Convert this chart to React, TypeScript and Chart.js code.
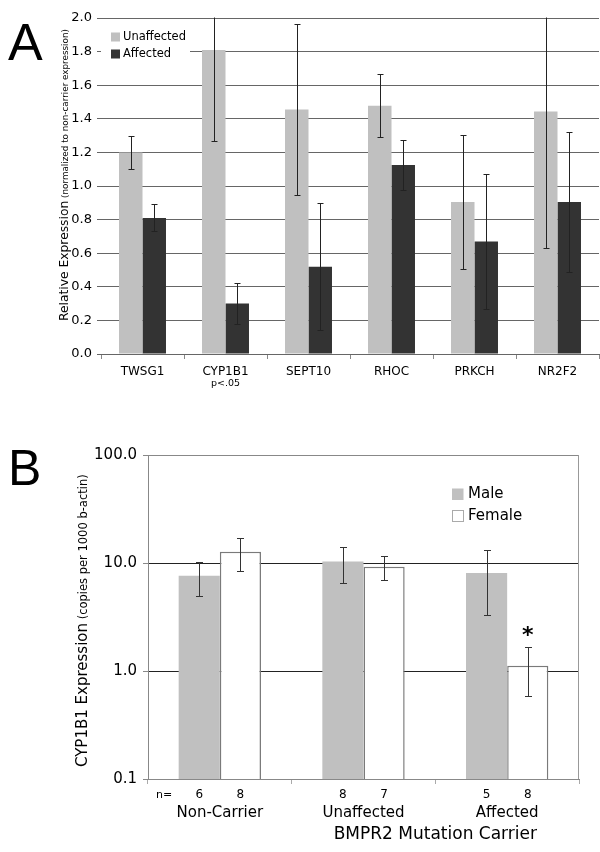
import React, { useEffect, useRef } from 'react';
import { Chart, registerables } from 'chart.js';

Chart.register(...registerables);
Chart.defaults.font.family = 'DejaVu Sans';
Chart.defaults.color = '#000';

// ---- Panel A data ----
const genes = ['TWSG1', 'CYP1B1', 'SEPT10', 'RHOC', 'PRKCH', 'NR2F2'];
const unaffectedA = [1.2, 1.81, 1.455, 1.478, 0.905, 1.444];
const unaffectedAErr = [0.1, 0.54, 0.51, 0.187, 0.4, 0.815];
const affectedA = [0.81, 0.3, 0.52, 1.125, 0.67, 0.905];
const affectedAErr = [0.08, 0.12, 0.38, 0.15, 0.4, 0.415];
const yTicksA = [0, 0.2, 0.4, 0.6, 0.8, 1.0, 1.2, 1.4, 1.6, 1.8, 2.0];

// ---- Panel B data ----
const groups = ['Non-Carrier', 'Unaffected', 'Affected'];
const maleB = [7.6, 10.3, 8.1];
const maleLow = [4.95, 6.5, 3.3];
const maleHigh = [10.3, 14.2, 13.2];
const femaleB = [12.7, 9.25, 1.12];
const femaleLow = [8.5, 6.96, 0.587];
const femaleHigh = [16.9, 11.5, 1.66];
const maleN = [6, 8, 5];
const femaleN = [8, 7, 8];
const yTicksB = [0.1, 1, 10, 100];

const errorBars = {
  id: 'errorBars',
  afterDatasetsDraw(chart: any, _a: any, opts: any) {
    const { ctx, chartArea } = chart;
    const y = chart.scales.y;
    ctx.save();
    ctx.beginPath();
    ctx.rect(chartArea.left, chartArea.top - 0.5, chartArea.right - chartArea.left, chartArea.bottom - chartArea.top + 1);
    ctx.clip();
    ctx.strokeStyle = opts.color || '#222';
    ctx.lineWidth = 1;
    chart.data.datasets.forEach((ds: any, i: number) => {
      const meta = chart.getDatasetMeta(i);
      meta.data.forEach((bar: any, j: number) => {
        let lo: number, hi: number;
        if (ds.errLow) { lo = ds.errLow[j]; hi = ds.errHigh[j]; }
        else { lo = ds.data[j] - ds.err[j]; hi = ds.data[j] + ds.err[j]; }
        const x = Math.round(bar.x) + 0.5;
        const yl = Math.round(y.getPixelForValue(lo)) + 0.5;
        const yh = Math.round(y.getPixelForValue(hi)) + 0.5;
        const cw = opts.cap || 3;
        ctx.beginPath();
        ctx.moveTo(x, yl); ctx.lineTo(x, yh);
        ctx.moveTo(x - cw, yl); ctx.lineTo(x + cw, yl);
        ctx.moveTo(x - cw, yh); ctx.lineTo(x + cw, yh);
        ctx.stroke();
      });
    });
    ctx.restore();
  },
};

function drawRotTitle(ctx: CanvasRenderingContext2D, baseX: number, yBottom: number, parts: [string, string][]) {
  ctx.save();
  ctx.translate(baseX, yBottom);
  ctx.rotate(-Math.PI / 2);
  ctx.textBaseline = 'alphabetic';
  ctx.textAlign = 'left';
  ctx.fillStyle = '#000';
  let x = 0;
  for (const [t, f] of parts) {
    ctx.font = f;
    ctx.fillText(t, x, 0);
    x += ctx.measureText(t).width;
  }
  ctx.restore();
}

const decorA = {
  id: 'decorA',
  afterDraw(chart: any) {
    const { ctx, chartArea } = chart;
    const xs = chart.scales.x;
    ctx.save();
    // panel letter
    ctx.fillStyle = '#000';
    ctx.font = '52px "Liberation Sans"';
    ctx.textBaseline = 'alphabetic';
    ctx.textAlign = 'left';
    ctx.fillText('A', 8, 60);
    // y title
    drawRotTitle(ctx, 67.5, 321, [
      ['Relative Expression', '12.3px "DejaVu Sans"'],
      [' (normalized to non-carrier expression)', '8.8px "DejaVu Sans"'],
    ]);
    // p-value
    ctx.font = '9.5px "DejaVu Sans"';
    ctx.textAlign = 'center';
    ctx.textBaseline = 'middle';
    ctx.fillText('p<.05', xs.getPixelForValue(1), 384);
    // legend
    ctx.fillStyle = '#fff';
    ctx.fillRect(chartArea.left, 26, 89, 36);
    ctx.fillStyle = '#c0c0c0';
    ctx.fillRect(111, 32.5, 9, 9);
    ctx.fillStyle = '#333';
    ctx.fillRect(111, 49.5, 9, 9);
    ctx.fillStyle = '#000';
    ctx.font = '11.5px "DejaVu Sans"';
    ctx.textAlign = 'left';
    ctx.fillText('Unaffected', 123, 37.5);
    ctx.fillText('Affected', 123, 54.5);
    ctx.restore();
  },
};

const decorB = {
  id: 'decorB',
  afterDraw(chart: any) {
    const { ctx, chartArea } = chart;
    const xs = chart.scales.x;
    const ys = chart.scales.y;
    ctx.save();
    // right border
    ctx.strokeStyle = '#999';
    ctx.lineWidth = 1;
    ctx.beginPath();
    ctx.moveTo(Math.round(chartArea.right) - 0.5, chartArea.top);
    ctx.lineTo(Math.round(chartArea.right) - 0.5, chartArea.bottom);
    ctx.stroke();
    // letter
    ctx.fillStyle = '#000';
    ctx.font = '50px "Liberation Sans"';
    ctx.textBaseline = 'alphabetic';
    ctx.textAlign = 'left';
    ctx.fillText('B', 8, 65);
    // y title
    drawRotTitle(ctx, 86.5, 347, [
      ['CYP1B1 Expression', '15px "DejaVu Sans"'],
      [' (copies per 1000 b-actin)', '11.5px "DejaVu Sans"'],
    ]);
    // n labels
    ctx.textBaseline = 'middle';
    ctx.font = '11px "DejaVu Sans"';
    ctx.textAlign = 'left';
    ctx.fillText('n=', chartArea.left + 8, 375);
    ctx.textAlign = 'center';
    ctx.font = '12px "DejaVu Sans"';
    const m0 = chart.getDatasetMeta(0);
    const m1 = chart.getDatasetMeta(1);
    m0.data.forEach((b: any, j: number) => ctx.fillText(String(maleN[j]), b.x, 375));
    m1.data.forEach((b: any, j: number) => ctx.fillText(String(femaleN[j]), b.x, 375));
    // axis title
    ctx.font = '17px "DejaVu Sans"';
    const cx = (xs.getPixelForValue(1) + xs.getPixelForValue(2)) / 2;
    ctx.fillText('BMPR2 Mutation Carrier', cx, 415);
    // asterisk
    const fb = m1.data[2];
    ctx.font = 'bold 22px "DejaVu Sans"';
    ctx.textBaseline = 'alphabetic';
    ctx.fillText('*', fb.x, ys.getPixelForValue(femaleHigh[2]) - 5.5);
    // legend
    ctx.fillStyle = '#c0c0c0';
    ctx.fillRect(452, 68.5, 11.5, 11.5);
    ctx.fillStyle = '#fff';
    ctx.fillRect(452.5, 90.5, 11, 11);
    ctx.strokeStyle = '#aaa';
    ctx.strokeRect(452.5, 90.5, 11, 11);
    ctx.fillStyle = '#000';
    ctx.font = '15px "DejaVu Sans"';
    ctx.textAlign = 'left';
    ctx.textBaseline = 'middle';
    ctx.fillText('Male', 468, 74.5);
    ctx.fillText('Female', 468, 96.5);
    ctx.restore();
  },
};

function ChartA() {
  const ref = useRef<HTMLCanvasElement>(null);
  useEffect(() => {
    const chart = new Chart(ref.current!, {
      type: 'bar',
      data: {
        labels: genes,
        datasets: [
          { label: 'Unaffected', data: unaffectedA, err: unaffectedAErr, backgroundColor: '#c0c0c0', barPercentage: 1, categoryPercentage: 0.566 } as any,
          { label: 'Affected', data: affectedA, err: affectedAErr, backgroundColor: '#333333', barPercentage: 1, categoryPercentage: 0.566 } as any,
        ],
      },
      options: {
        responsive: false,
        animation: false,
        layout: { padding: { top: 18, right: 1, left: 0, bottom: 0 } },
        plugins: { legend: { display: false }, tooltip: { enabled: false }, errorBars: { color: '#222', cap: 3 } } as any,
        scales: {
          x: {
            type: 'category',
            offset: true,
            grid: { offset: true, drawOnChartArea: false, drawTicks: true, tickLength: 5, color: '#888' },
            border: { display: true, color: '#666' },
            ticks: { font: { size: 12 }, color: '#000', padding: 6, maxRotation: 0, autoSkip: false },
            afterFit: (s: any) => { s.height = 56; },
          },
          y: {
            type: 'linear',
            min: 0,
            max: 2,
            afterBuildTicks: (s: any) => { s.ticks = yTicksA.map((v) => ({ value: v })); },
            grid: { color: '#666', tickLength: 4, drawTicks: true },
            border: { display: false },
            ticks: { font: { size: 13 }, color: '#000', padding: 5, callback: (v: any) => Number(v).toFixed(1) },
            afterFit: (s: any) => { s.width = 101; },
          },
        },
      },
      plugins: [errorBars, decorA],
    } as any);
    return () => chart.destroy();
  }, []);
  return <canvas ref={ref} width={600} height={410} style={{ position: 'absolute', left: 0, top: 0, width: 600, height: 410 }} />;
}

function ChartB() {
  const ref = useRef<HTMLCanvasElement>(null);
  useEffect(() => {
    const chart = new Chart(ref.current!, {
      type: 'bar',
      data: {
        labels: groups,
        datasets: [
          { label: 'Male', data: maleB, errLow: maleLow, errHigh: maleHigh, backgroundColor: '#c0c0c0', borderWidth: 0, barPercentage: 1, categoryPercentage: 0.573 } as any,
          { label: 'Female', data: femaleB, errLow: femaleLow, errHigh: femaleHigh, backgroundColor: '#ffffff', borderColor: '#7a7a7a', borderWidth: 1.5, barPercentage: 1, categoryPercentage: 0.573 } as any,
        ],
      },
      options: {
        responsive: false,
        animation: false,
        layout: { padding: { top: 35, right: 21, left: 0, bottom: 0 } },
        plugins: { legend: { display: false }, tooltip: { enabled: false }, errorBars: { color: '#333', cap: 3.5 } } as any,
        scales: {
          x: {
            type: 'category',
            offset: true,
            grid: { offset: true, drawOnChartArea: false, drawTicks: true, tickLength: 5, color: '#aaa' },
            border: { display: true, color: '#888' },
            ticks: { font: { size: 15 }, color: '#000', padding: 20, maxRotation: 0, autoSkip: false },
            afterFit: (s: any) => { s.height = 73; },
          },
          y: {
            type: 'logarithmic',
            min: 0.1,
            max: 100,
            afterBuildTicks: (s: any) => { s.ticks = yTicksB.map((v) => ({ value: v, major: true })); },
            grid: {
              color: (c: any) => (c.tick && (c.tick.value === 1 || c.tick.value === 10) ? '#222' : '#888'),
              tickColor: '#888',
              tickLength: 5,
              drawTicks: true,
            },
            border: { display: true, color: '#888' },
            ticks: { font: { size: 15 }, color: '#000', padding: 6, callback: (v: any) => Number(v).toFixed(1) },
            afterFit: (s: any) => { s.width = 148; },
          },
        },
      },
      plugins: [errorBars, decorB],
    } as any);
    return () => chart.destroy();
  }, []);
  return <canvas ref={ref} width={600} height={432} style={{ position: 'absolute', left: 0, top: 420, width: 600, height: 432 }} />;
}

export default function App() {
  return (
    <div style={{ position: 'fixed', left: 0, top: 0, width: 600, height: 852, background: '#fff', overflow: 'hidden' }}>
      <ChartA />
      <ChartB />
    </div>
  );
}
